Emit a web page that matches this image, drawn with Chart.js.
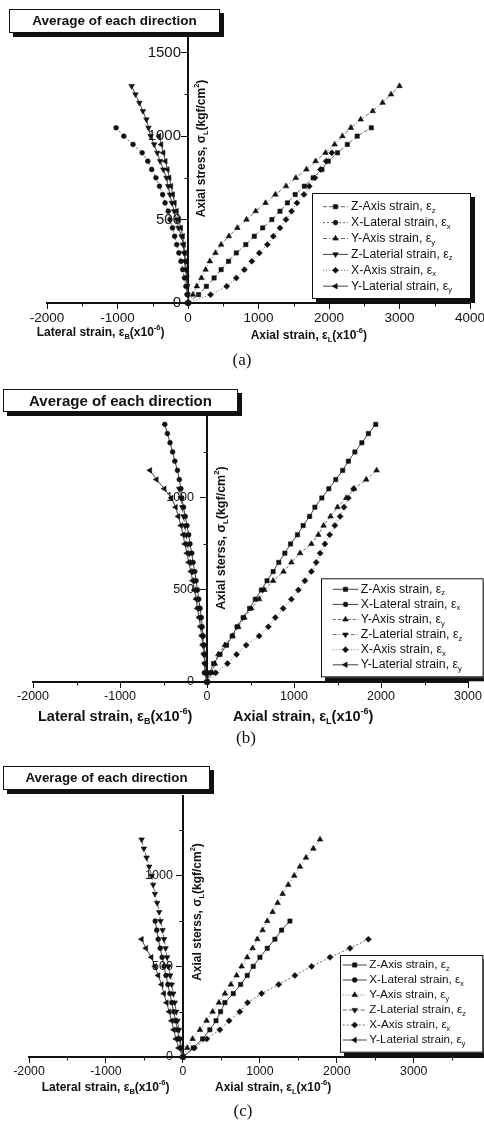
<!DOCTYPE html>
<html>
<head>
<meta charset="utf-8">
<script src="https://cdn.jsdelivr.net/npm/chart.js@4.4.0/dist/chart.umd.min.js"></script>
<style>
  html, body { margin: 0; padding: 0; background: #fff; }
  body { width: 484px; height: 1122px; overflow: hidden; position: relative; }
  .panel { position: absolute; left: 0; }
  canvas { display: block; }
  .tag {
    position: absolute; background: #fff; border: 1px solid #111;
    box-shadow: 4px 4px 0 #111; box-sizing: border-box;
    font-family: "Liberation Sans", Arial, sans-serif; font-weight: bold;
    color: #111; text-align: center; white-space: nowrap;
  }
  .cap {
    position: absolute; font-family: "Liberation Serif", "Times New Roman", serif;
    font-size: 17px; color: #111; transform: translate(-50%, -50%);
  }
</style>
</head>
<body>

<div class="panel" style="top:0"><canvas id="pa" width="520" height="372"></canvas></div>
<div class="panel" style="top:372px"><canvas id="pb" width="520" height="378"></canvas></div>
<div class="panel" style="top:750px"><canvas id="pc" width="520" height="372"></canvas></div>

<div class="tag" style="left:9px;top:9px;width:211px;height:24px;line-height:22px;font-size:13.5px">Average of each direction</div>
<div class="tag" style="left:3px;top:389px;width:235px;height:23px;line-height:21px;font-size:15px">Average of each direction</div>
<div class="tag" style="left:3px;top:766px;width:207px;height:24px;line-height:22px;font-size:13.3px">Average of each direction</div>

<div class="cap" style="left:242px;top:360px">(a)</div>
<div class="cap" style="left:246px;top:738px">(b)</div>
<div class="cap" style="left:243px;top:1111px">(c)</div>

<script>
// Stress levels shared by every series (kgf/cm^2), one reading per 50 kgf/cm^2
const STRESS = [0, 50, 100, 150, 200, 250, 300, 350, 400, 450, 500, 550, 600, 650, 700,
                750, 800, 850, 900, 950, 1000, 1050, 1100, 1150, 1200, 1250, 1300, 1350, 1400];

// Strain readings (x10^-6) for specimen (a)
const zAxisA = [0, 150, 260, 370, 470, 575, 685, 820, 940, 1060, 1190, 1305, 1410, 1520, 1650, 1775, 1900, 1990, 2120, 2260, 2400, 2600];
const xLatA  = [0, -12, -30, -50, -75, -100, -130, -160, -190, -220, -255, -280, -325, -360, -405, -455, -515, -570, -650, -780, -910, -1020];
const yAxisA = [0, 70, 125, 190, 250, 310, 390, 470, 580, 700, 830, 960, 1100, 1240, 1390, 1530, 1680, 1810, 1950, 2080, 2190, 2310, 2450, 2620, 2760, 2880, 3000];
const zLatA  = [0, -5, -12, -20, -30, -42, -55, -70, -90, -135, -160, -195, -230, -255, -280, -305, -350, -395, -435, -480, -530, -560, -590, -640, -690, -745, -800];
const xAxisA = [0, 320, 550, 685, 800, 905, 1012, 1125, 1210, 1305, 1390, 1470, 1545, 1645, 1720, 1800, 1880, 1960, 2040];
const yLatA  = [0, -5, -10, -18, -25, -35, -45, -60, -75, -100, -130, -160, -190, -215, -240, -265, -290, -320, -350, -380, -410];

// Strain readings (x10^-6) for specimen (b)
const zAxisB = [0, 30, 75, 150, 225, 290, 345, 415, 490, 555, 625, 690, 760, 825, 895, 960, 1040, 1105, 1180, 1240, 1320, 1400, 1480, 1560, 1625, 1700, 1780, 1855, 1940];
const xLatB  = [0, -30, -20, -28, -35, -45, -55, -65, -80, -95, -110, -125, -140, -160, -175, -195, -210, -230, -250, -270, -290, -300, -318, -340, -370, -395, -425, -455, -485];
const yAxisB = [0, 60, 90, 130, 205, 295, 360, 430, 510, 600, 660, 760, 880, 970, 1070, 1200, 1280, 1340, 1420, 1500, 1600, 1690, 1830, 1950];
const zLatB  = [0, -20, -25, -35, -45, -55, -70, -85, -100, -115, -135, -150, -170, -190, -205, -225, -240, -255, -270, -285, -300, -320];
const xAxisB = [0, 100, 235, 340, 450, 600, 705, 785, 875, 970, 1050, 1125, 1200, 1255, 1300, 1355, 1410, 1470, 1530, 1575, 1625, 1685];
const yLatB  = [0, -15, -25, -35, -48, -60, -75, -90, -110, -125, -145, -165, -185, -210, -230, -255, -275, -300, -330, -360, -410, -490, -580, -655];

// Strain readings (x10^-6) for specimen (c)
const zAxisC = [0, 134, 256, 350, 430, 490, 546, 654, 750, 836, 914, 1001, 1096, 1196, 1283, 1391];
const xLatC  = [0, -25, -48, -70, -95, -120, -145, -170, -195, -220, -245, -270, -295, -320, -340, -360];
const yAxisC = [0, 56, 126, 221, 308, 386, 468, 546, 624, 698, 763, 836, 906, 967, 1036, 1096, 1166, 1231, 1296, 1369, 1447, 1521, 1600, 1695, 1782];
const zLatC  = [0, -18, -35, -52, -70, -88, -105, -125, -145, -165, -185, -205, -225, -245, -264, -290, -308, -334, -364, -386, -407, -438, -472, -507, -537];
const xAxisC = [0, 150, 310, 480, 600, 740, 840, 1023, 1245, 1456, 1673, 1912, 2172, 2410];
const yLatC  = [0, -55, -90, -120, -147, -178, -212, -247, -277, -321, -364, -410, -480, -537];

// Legend entries: [label, subscript]
const SERIES_LABELS = [
  ['Z-Axis strain, \u03b5', 'z'],
  ['X-Lateral strain, \u03b5', 'x'],
  ['Y-Axis strain, \u03b5', 'y'],
  ['Z-Laterial strain, \u03b5', 'z'],
  ['X-Axis strain, \u03b5', 'x'],
  ['Y-Laterial strain, \u03b5', 'y']
];

// Labelled tick values
const X_TICKS_A = [-2000, -1000, 0, 1000, 2000, 3000, 4000];
const X_TICKS_B = [-2000, -1000, 0, 1000, 2000, 3000];
const X_TICKS_C = [-2000, -1000, 0, 1000, 2000, 3000];
const Y_TICKS_A = [0, 500, 1000, 1500];
const Y_TICKS_BC = [0, 500, 1000];
const X_MINOR = 500, Y_MINOR = 250;

const FONT = '"Liberation Sans", Arial, sans-serif';
Chart.defaults.font.family = FONT;
Chart.defaults.color = '#111';

// Marker shapes, in legend order
const MARKS = [
  { pointStyle: 'rect', rotation: 0, radius: 3 },
  { pointStyle: 'circle', rotation: 0, radius: 2.4 },
  { pointStyle: 'triangle', rotation: 0, radius: 3.2 },
  { pointStyle: 'triangle', rotation: 180, radius: 3.2 },
  { pointStyle: 'rectRot', rotation: 0, radius: 3 },
  { pointStyle: 'triangle', rotation: 270, radius: 3.2 }
];

function toPoints(strains) {
  return strains.map((v, i) => ({ x: v, y: STRESS[i] }));
}

function makeDatasets(seriesList, dashes) {
  return seriesList.map((s, i) => ({
    label: SERIES_LABELS[i][0] + SERIES_LABELS[i][1],
    data: toPoints(s),
    showLine: true,
    clip: false,
    borderColor: dashes[i].length ? '#666' : '#444',
    borderWidth: 1,
    borderDash: dashes[i],
    pointStyle: MARKS[i].pointStyle,
    pointRotation: MARKS[i].rotation,
    pointRadius: MARKS[i].radius,
    pointBackgroundColor: '#111',
    pointBorderColor: '#111',
    pointBorderWidth: 0.6,
    tension: 0
  }));
}

// Text with sub/superscript runs: parts = [[text, mode]], mode 0 normal, 1 sub, 2 sup
function richWidth(ctx, parts, size, weight) {
  let w = 0;
  for (const [t, m] of parts) {
    ctx.font = weight + ' ' + (m ? size * 0.62 : size) + 'px ' + FONT;
    w += ctx.measureText(t).width;
  }
  return w;
}
function drawRich(ctx, parts, x, y, size, weight) {
  ctx.textBaseline = 'middle';
  ctx.textAlign = 'left';
  for (const [t, m] of parts) {
    const s = m ? size * 0.62 : size;
    ctx.font = weight + ' ' + s + 'px ' + FONT;
    const dy = m === 1 ? size * 0.32 : (m === 2 ? -size * 0.38 : 0);
    ctx.fillText(t, x, y + dy);
    x += ctx.measureText(t).width;
  }
}

const decorPlugin = {
  id: 'decor',
  afterDatasetsDraw(chart, args, o) {
    const ctx = chart.ctx;
    const xs = chart.scales.x, ys = chart.scales.y;
    const x0 = xs.getPixelForValue(0), y0 = ys.getPixelForValue(0);
    ctx.save();
    ctx.fillStyle = '#111';
    ctx.strokeStyle = '#111';

    // minor tick marks between the labelled ones
    ctx.lineWidth = 1;
    ctx.beginPath();
    for (let v = Math.ceil(xs.min / X_MINOR) * X_MINOR; v <= xs.max; v += X_MINOR) {
      if (v % (2 * X_MINOR) === 0) continue;
      const px = Math.round(xs.getPixelForValue(v)) + 0.5;
      ctx.moveTo(px, y0); ctx.lineTo(px, y0 + 3.5);
    }
    for (let v = Y_MINOR; v <= ys.max; v += Y_MINOR) {
      if (v % (2 * Y_MINOR) === 0) continue;
      const py = Math.round(ys.getPixelForValue(v)) + 0.5;
      ctx.moveTo(x0, py); ctx.lineTo(x0 - 3.5, py);
    }
    ctx.stroke();

    // stress tick labels, set left of the vertical axis
    ctx.font = o.yTickSize + 'px ' + FONT;
    ctx.textAlign = 'right';
    ctx.textBaseline = 'middle';
    for (const tk of ys.ticks) {
      ctx.fillText(String(tk.value), x0 - o.yTickGap, ys.getPixelForValue(tk.value));
    }

    // axis titles
    const t = o.titles;
    drawRich(ctx, [['Lateral strain, \u03b5', 0], ['B', 1], ['(x10', 0], ['-6', 2], [')', 0]], t.latX, t.y, t.size, 'bold');
    drawRich(ctx, [['Axial strain, \u03b5', 0], ['L', 1], ['(x10', 0], ['-6', 2], [')', 0]], t.axX, t.y2, t.size, 'bold');
    const yParts = [[t.yWord + ', \u03c3', 0], ['L', 1], ['(kgf/cm', 0], ['2', 2], [')', 0]];
    const yw = richWidth(ctx, yParts, t.ySize, 'bold');
    ctx.save();
    ctx.translate(t.yCx, t.yCy);
    ctx.rotate(-Math.PI / 2);
    drawRich(ctx, yParts, -yw / 2, 0, t.ySize, 'bold');
    ctx.restore();

    // legend box
    const L = o.legend;
    ctx.fillStyle = '#111';
    ctx.fillRect(L.x + 4, L.y + 4, L.w, L.h);
    ctx.fillStyle = '#fff';
    ctx.fillRect(L.x, L.y, L.w, L.h);
    ctx.lineWidth = 1;
    ctx.strokeStyle = '#111';
    ctx.strokeRect(L.x + 0.5, L.y + 0.5, L.w - 1, L.h - 1);
    chart.data.datasets.forEach((ds, i) => {
      const ry = L.row0 + i * L.gap;
      ctx.strokeStyle = ds.borderColor;
      ctx.setLineDash(ds.borderDash);
      ctx.beginPath();
      ctx.moveTo(L.lx0, ry); ctx.lineTo(L.lx1, ry);
      ctx.stroke();
      ctx.setLineDash([]);
      ctx.fillStyle = '#111';
      ctx.strokeStyle = '#111';
      ctx.lineWidth = 0.6;
      Chart.helpers.drawPoint(ctx, {
        pointStyle: ds.pointStyle, rotation: ds.pointRotation,
        radius: ds.pointRadius, borderWidth: 0.6
      }, (L.lx0 + L.lx1) / 2, ry);
      ctx.lineWidth = 1;
      drawRich(ctx, [[SERIES_LABELS[i][0], 0], [SERIES_LABELS[i][1], 1]], L.tx, ry, L.size, 'normal');
    });
    ctx.restore();
  }
};

function fixedTicks(list) {
  return (scale) => { scale.ticks = list.map(v => ({ value: v })); };
}

function makeChart(id, seriesList, dashes, xr, xTicks, xTickSize, yMax, yTicks, pad, decor) {
  return new Chart(document.getElementById(id), {
    type: 'scatter',
    data: { datasets: makeDatasets(seriesList, dashes) },
    plugins: [decorPlugin],
    options: {
      responsive: false,
      animation: false,
      layout: { padding: pad },
      plugins: { legend: { display: false }, tooltip: { enabled: false }, decor: decor },
      scales: {
        x: {
          type: 'linear', position: { y: 0 }, min: xr[0], max: xr[1],
          afterBuildTicks: fixedTicks(xTicks),
          ticks: { font: { size: xTickSize }, color: '#111', padding: 2, maxRotation: 0, autoSkip: false,
                   callback: (v) => String(v) },
          grid: { display: true, drawOnChartArea: false, drawTicks: true, tickLength: 5, color: '#111', tickWidth: 1 },
          border: { display: true, color: '#111', width: 2 }
        },
        y: {
          type: 'linear', position: { x: 0 }, min: 0, max: yMax,
          afterBuildTicks: fixedTicks(yTicks),
          ticks: { display: false },
          grid: { display: true, drawOnChartArea: false, drawTicks: true, tickLength: 6, color: '#111', tickWidth: 1 },
          border: { display: true, color: '#111', width: 2 }
        }
      }
    }
  });
}

makeChart('pa', [zAxisA, xLatA, yAxisA, zLatA, xAxisA, yLatA],
  [[4, 2], [2, 2], [4, 2, 1, 2], [], [1, 2], []],
  [-2000, 4000], X_TICKS_A, 13.5, 1600, Y_TICKS_A,
  { left: 47, right: 50, top: 36, bottom: 69 },
  {
    yTickSize: 15, yTickGap: 7,
    titles: { latX: 36.7, axX: 250.7, y: 333, y2: 336, size: 12, yWord: 'Axial stress', yCx: 202, yCy: 148.5, ySize: 12 },
    legend: { x: 312, y: 193, w: 159, h: 106, row0: 206.7, gap: 15.9, lx0: 323, lx1: 348, tx: 351, size: 12.3 }
  });

makeChart('pb', [zAxisB, xLatB, yAxisB, zLatB, xAxisB, yLatB],
  [[], [], [3, 2], [4, 2, 1, 2], [1, 2], []],
  [-2000, 3000], X_TICKS_B, 12.5, 1440, Y_TICKS_BC,
  { left: 33, right: 52, top: 45, bottom: 68 },
  {
    yTickSize: 12.5, yTickGap: 13,
    titles: { latX: 38, axX: 233, y: 344.7, y2: 344.7, size: 14.5, yWord: 'Axial sterss', yCx: 222, yCy: 166, ySize: 12.5 },
    legend: { x: 321, y: 206.3, w: 162.6, h: 99, row0: 217.3, gap: 15.1, lx0: 332.7, lx1: 358.3, tx: 360.7, size: 12.3 }
  });

makeChart('pc', [zAxisC, xLatC, yAxisC, zLatC, xAxisC, yLatC],
  [[], [], [1, 2], [4, 2], [2, 2], []],
  [-2000, 3900], X_TICKS_C, 12.3, 1440, Y_TICKS_BC,
  { left: 29, right: 37, top: 46, bottom: 65 },
  {
    yTickSize: 12.5, yTickGap: 10,
    titles: { latX: 41.7, axX: 215, y: 338, y2: 338, size: 12, yWord: 'Axial sterss', yCx: 198, yCy: 162, ySize: 12 },
    legend: { x: 340, y: 205, w: 143.3, h: 97.7, row0: 215, gap: 15, lx0: 342.7, lx1: 366.7, tx: 369.3, size: 11.7 }
  });
</script>
</body>
</html>
